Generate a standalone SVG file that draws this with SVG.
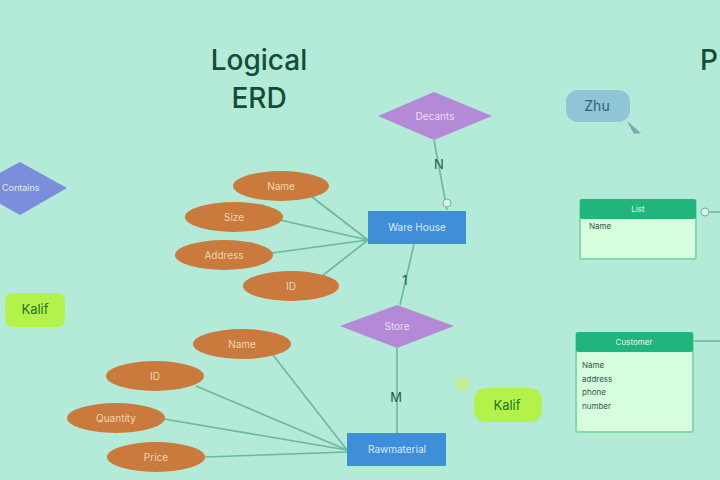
<svg xmlns="http://www.w3.org/2000/svg" width="720" height="480" viewBox="0 0 720 480">
<style>
.t{font-family:"Inter","Liberation Sans",sans-serif}
.title{font-size:28px;fill:#134d37;font-weight:500}
.attr{fill:#c97a3c}
.at{font-size:10px;fill:#f1d8b2;text-anchor:middle}
.ent{fill:#3f8fd8}
.et{font-size:10px;fill:#dbe9fb;text-anchor:middle}
.rel{fill:#b48ad6}
.rt{font-size:10px;fill:#ecdcf7;text-anchor:middle}
.ln{stroke:#6cb89a;stroke-width:1.6;fill:none}
.card{font-size:13px;fill:#1f5f48;text-anchor:middle}
.sticky{fill:#b2f24a}
.st{font-size:13px;fill:#237323;text-anchor:middle}
.th{fill:#1fb57c}
.tb{fill:#d7fddf;stroke:#83d9a9;stroke-width:2}
.tt{font-size:8px;fill:#e2fbe9;text-anchor:middle}
.ft{font-size:8px;fill:#2f5a45}
</style>
<rect width="720" height="480" fill="#b3ead8"/>
<text class="t title" x="259" y="70" text-anchor="middle">Logical</text>
<text class="t title" x="259" y="108" text-anchor="middle">ERD</text>
<text class="t title" x="700" y="70">P</text>
<g id="connectors">
<line class="ln" x1="434" y1="140" x2="447" y2="210"/>
<line class="ln" x1="414" y1="244" x2="400" y2="305"/>
<line class="ln" x1="397" y1="348" x2="397" y2="433"/>
<line class="ln" x1="312" y1="197" x2="368" y2="240"/>
<line class="ln" x1="280" y1="220" x2="368" y2="240"/>
<line class="ln" x1="272" y1="253" x2="368" y2="240"/>
<line class="ln" x1="322" y1="276" x2="368" y2="240"/>
<line class="ln" x1="273" y1="355" x2="347" y2="450"/>
<line class="ln" x1="196" y1="386" x2="347" y2="450"/>
<line class="ln" x1="164" y1="419" x2="347" y2="450"/>
<line class="ln" x1="205" y1="457" x2="347" y2="452"/>
<line class="ln" x1="708" y1="212" x2="720" y2="212"/>
<line class="ln" x1="693" y1="341" x2="720" y2="341"/>
<circle cx="447" cy="203" r="4" fill="#d9f7e4" stroke="#6cb89a"/>
<circle cx="705" cy="212" r="4" fill="#d9f7e4" stroke="#6cb89a"/>
<text class="t card" x="439" y="169">N</text>
<text class="t card" x="405" y="285">1</text>
<text class="t card" x="396" y="402">M</text>
</g>
<g id="contains">
<polygon points="-28,188 20,162 67,188 20,215" fill="#7b8edc"/>
<text class="t" x="2" y="191" font-size="9" fill="#e4e8fa">Contains</text>
</g>
<g id="kalif1">
<rect class="sticky" x="5" y="293" width="60" height="34" rx="8"/>
<text class="t st" x="35" y="314">Kalif</text>
</g>
<g id="decants">
<polygon class="rel" points="378,116 434,92 492,116 434,140"/>
<text class="t rt" x="435" y="120">Decants</text>
</g>
<g id="warehouse">
<rect class="ent" x="368" y="211" width="98" height="33"/>
<text class="t et" x="417" y="231">Ware House</text>
</g>
<g id="wh-name"><ellipse class="attr" cx="281" cy="186" rx="48" ry="15"/><text class="t at" x="281" y="190">Name</text></g>
<g id="wh-size"><ellipse class="attr" cx="234" cy="217" rx="49" ry="15"/><text class="t at" x="234" y="221">Size</text></g>
<g id="wh-address"><ellipse class="attr" cx="224" cy="255" rx="49" ry="15"/><text class="t at" x="224" y="259">Address</text></g>
<g id="wh-id"><ellipse class="attr" cx="291" cy="286" rx="48" ry="15"/><text class="t at" x="291" y="290">ID</text></g>
<g id="store">
<polygon class="rel" points="340,326 397,305 454,326 397,348"/>
<text class="t rt" x="397" y="330">Store</text>
</g>
<g id="rawmaterial">
<rect class="ent" x="347" y="433" width="99" height="33"/>
<text class="t et" x="397" y="453">Rawmaterial</text>
</g>
<g id="rm-name"><ellipse class="attr" cx="242" cy="344" rx="49" ry="15"/><text class="t at" x="242" y="348">Name</text></g>
<g id="rm-id"><ellipse class="attr" cx="155" cy="376" rx="49" ry="15"/><text class="t at" x="155" y="380">ID</text></g>
<g id="rm-quantity"><ellipse class="attr" cx="116" cy="418" rx="49" ry="15"/><text class="t at" x="116" y="422">Quantity</text></g>
<g id="rm-price"><ellipse class="attr" cx="156" cy="457" rx="49" ry="15"/><text class="t at" x="156" y="461">Price</text></g>
<g id="kalif2">
<circle cx="462" cy="384" r="7" fill="#c8f27a" opacity="0.7"/>
<rect class="sticky" x="474" y="388" width="68" height="34" rx="12"/>
<text class="t st" x="507" y="410">Kalif</text>
</g>
<g id="zhu">
<rect x="566" y="90" width="64" height="32" rx="12" fill="#8fc5d6"/>
<text class="t" x="597" y="111" font-size="14" fill="#2d6278" text-anchor="middle">Zhu</text>
<path d="M627,121 L641,133 L634,134 Z" fill="#7fa8ad"/>
</g>
<g id="list-table">
<rect class="tb" x="580" y="200" width="116" height="59" rx="2"/>
<rect class="th" x="580" y="199" width="116" height="20" rx="2"/>
<text class="t tt" x="638" y="212">List</text>
<text class="t ft" x="589" y="229">Name</text>
</g>
<g id="customer-table">
<rect class="tb" x="576" y="333" width="117" height="99" rx="2"/>
<rect class="th" x="576" y="332" width="117" height="20" rx="2"/>
<text class="t tt" x="634" y="345">Customer</text>
<text class="t ft" x="582" y="368">Name</text>
<text class="t ft" x="582" y="382">address</text>
<text class="t ft" x="582" y="395">phone</text>
<text class="t ft" x="582" y="409">number</text>
</g>
</svg>
